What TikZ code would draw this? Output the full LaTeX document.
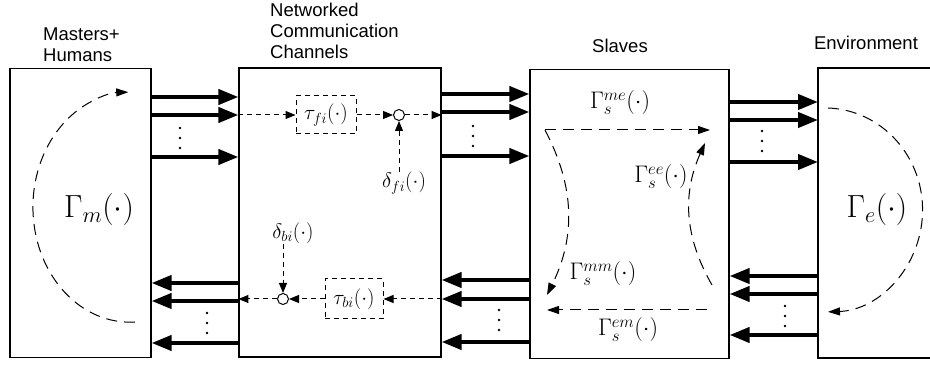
\RequirePackage{fix-cm}
\documentclass[tikz,border=0pt]{standalone}
\usepackage{fontspec}
\setsansfont{Liberation Sans}
\usetikzlibrary{arrows.meta}
\tikzset{
blk/.style={draw,line width=1.2pt,minimum height=289pt,inner sep=0pt},
fat/.style={line width=4pt,-{Triangle[length=20pt,width=15pt]}},
sig/.style={line width=1pt,dash pattern=on 5pt off 4pt,-{Triangle[length=10pt,width=8pt]}},
cyc/.style={line width=1pt,dash pattern=on 11pt off 7pt,-{Triangle[length=12pt,width=8pt]}},
dly/.style={draw,line width=1pt,dash pattern=on 5pt off 4pt,minimum width=60pt,minimum height=38pt,inner sep=0pt,font=\fontsize{21}{25}\selectfont},
sum/.style={draw,circle,line width=1pt,minimum size=11pt,inner sep=0pt},
ttl/.style={font=\sffamily\fontsize{18.5}{21}\selectfont,align=left,inner sep=0pt},
lbl/.style={font=\fontsize{21}{25}\selectfont,inner sep=0pt},
gam/.style={font=\fontsize{24}{28}\selectfont,inner sep=0pt}
}
\begin{document}
\begin{tikzpicture}[x=1pt,y=-1pt]
\useasboundingbox (0,0) rectangle (930,366);
% blocks
\node[blk,minimum width=141pt] (mas) at (80.5,213) {};
\node[blk,minimum width=202pt] (net) at (340,212.5) {};
\node[blk,minimum width=199pt] (sla) at (629.5,214) {};
\draw[line width=1.2pt] (930,68) -| (818,358) -- (930,358);
\coordinate (env) at (818,213);
% titles
\node[ttl,anchor=west] (tmas) at (43,45) {Masters+\\Humans};
\node[ttl,anchor=west] (tnet) at (270,31) {Networked\\Communication\\Channels};
\node[ttl] (tsla) at (620,46) {Slaves};
\node[ttl] (tenv) at (866,43) {Environment};
% channels
\foreach \y in {97,115,157} \draw[fat] (mas.east |- 0,\y) -- (net.west |- 0,\y);
\foreach \y in {283,301,343} \draw[fat] (net.west |- 0,\y) -- (mas.east |- 0,\y);
\foreach \y in {94,112,156} \draw[fat] (net.east |- 0,\y) -- (sla.west |- 0,\y);
\foreach \y in {280,299,342} \draw[fat] (sla.west |- 0,\y) -- (net.east |- 0,\y);
\foreach \y in {102,120,162} \draw[fat] (sla.east |- 0,\y) -- (env |- 0,\y);
\foreach \y in {276,294,335} \draw[fat] (env |- 0,\y) -- (sla.east |- 0,\y);
\foreach \x/\y in {180/128,207/313,473/126,499/310,762/131,785/306}
  \foreach \k in {0,10,20} \fill (\x,\y+\k) circle (1.4pt);
% forward path
\node[dly] (tf) at (326,115) {$\tau_{fi}(\cdot)$};
\node[sum] (cf) at (399,115) {};
\node[lbl] (df) at (404,183) {$\delta_{fi}(\cdot)$};
\draw[sig] (net.west |- tf) -- (tf);
\draw[sig] (tf) -- (cf);
\draw[sig] (cf) -- (net.east |- cf);
\draw[sig] (cf |- df.north) -- (cf);
% backward path
\node[dly,minimum width=58pt,minimum height=40pt] (tb) at (354,299) {$\tau_{bi}(\cdot)$};
\node[sum] (cb) at (283,299) {};
\node[lbl] (db) at (293,233) {$\delta_{bi}(\cdot)$};
\draw[sig] (net.east |- tb) -- (tb);
\draw[sig] (tb) -- (cb);
\draw[sig] (cb) -- (net.west |- cb);
\draw[sig] (cb |- db.south) -- (cb);
% dynamics
\draw[cyc] (135,322) arc[start angle=87,end angle=269,x radius=97,y radius=115];
\node[font=\fontsize{32}{38}\selectfont,inner sep=0pt] (gm) at (99,210) {$\Gamma_m(\cdot)$};
\draw[cyc] (828,108) arc[start angle=-88,end angle=88,x radius=98,y radius=102];
\node[font=\fontsize{32}{38}\selectfont,inner sep=0pt] (ge) at (877,210) {$\Gamma_e(\cdot)$};
\coordinate (s1) at (545,130);
\coordinate (s2) at (710,130);
\coordinate (s3) at (712,285);
\coordinate (s4) at (705,143);
\coordinate (s5) at (707,310);
\coordinate (s6) at (547,310);
\coordinate (s7) at (547,295);
\draw[cyc] (s1) -- (s2);
\draw[cyc] (s1) to[bend left=27] (s7);
\draw[cyc] (s3) to[bend left=27] (s4);
\draw[cyc] (s5) -- (s6);
\node[gam] (gme) at (620,103) {$\Gamma_s^{me}(\cdot)$};
\node[gam] (gee) at (661,177) {$\Gamma_s^{ee}(\cdot)$};
\node[gam] (gmm) at (603,274) {$\Gamma_s^{mm}(\cdot)$};
\node[gam] (gem) at (628,330) {$\Gamma_s^{em}(\cdot)$};
\end{tikzpicture}
\end{document}
